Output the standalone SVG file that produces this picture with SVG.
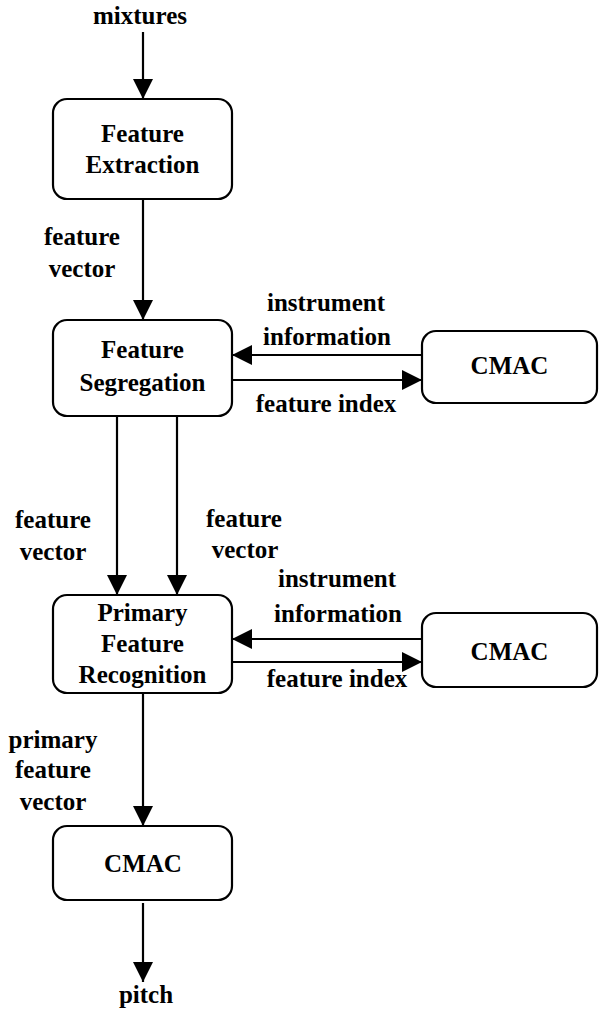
<svg xmlns="http://www.w3.org/2000/svg" width="600" height="1012" viewBox="0 0 600 1012">
  <style>
    .box { fill: #ffffff; stroke: #000000; stroke-width: 2.2; }
    .wire { fill: none; stroke: #000000; stroke-width: 2.2; }
    text { font-family: "Liberation Serif", "Times New Roman", serif; font-weight: bold; font-size: 25px; fill: #000000; text-anchor: middle; }
  </style>
  <defs>
    <marker id="head" markerUnits="userSpaceOnUse" markerWidth="20" markerHeight="20" refX="20" refY="10" orient="auto">
      <path d="M0,0 L20,10 L0,20 Z" fill="#000000"/>
    </marker>
  </defs>

  <rect width="600" height="1012" fill="#ffffff"/>

  <!-- connectors -->
  <g id="connectors">
    <line class="wire" x1="143" y1="32" x2="143" y2="99" marker-end="url(#head)"/>
    <line class="wire" x1="143" y1="199" x2="143" y2="320" marker-end="url(#head)"/>
    <line class="wire" x1="422" y1="355" x2="232" y2="355" marker-end="url(#head)"/>
    <line class="wire" x1="232" y1="380" x2="422" y2="380" marker-end="url(#head)"/>
    <line class="wire" x1="117" y1="416" x2="117" y2="595" marker-end="url(#head)"/>
    <line class="wire" x1="177" y1="416" x2="177" y2="595" marker-end="url(#head)"/>
    <line class="wire" x1="422" y1="639" x2="232" y2="639" marker-end="url(#head)"/>
    <line class="wire" x1="232" y1="662" x2="422" y2="662" marker-end="url(#head)"/>
    <line class="wire" x1="143" y1="693" x2="143" y2="826" marker-end="url(#head)"/>
    <line class="wire" x1="143" y1="903" x2="143" y2="982" marker-end="url(#head)"/>

    <text x="140" y="24">mixtures</text>
    <text x="82" y="245">feature</text>
    <text x="82" y="277">vector</text>
    <text x="326" y="311">instrument</text>
    <text x="327" y="345">information</text>
    <text x="326" y="412">feature index</text>
    <text x="53" y="528">feature</text>
    <text x="53" y="560">vector</text>
    <text x="244" y="527">feature</text>
    <text x="245" y="558">vector</text>
    <text x="337" y="587">instrument</text>
    <text x="338" y="622">information</text>
    <text x="337" y="687">feature index</text>
    <text x="53" y="748">primary</text>
    <text x="53" y="778">feature</text>
    <text x="53" y="810">vector</text>
    <text x="146" y="1003">pitch</text>
  </g>

  <!-- nodes -->
  <g id="feature-extraction">
    <rect class="box" x="53" y="99" width="179" height="100" rx="14" ry="14"/>
    <text x="142.5" y="142">Feature</text>
    <text x="142.5" y="173">Extraction</text>
  </g>

  <g id="feature-segregation">
    <rect class="box" x="53" y="320" width="179" height="96" rx="14" ry="14"/>
    <text x="142.5" y="358">Feature</text>
    <text x="142.5" y="391">Segregation</text>
  </g>

  <g id="cmac-segregation">
    <rect class="box" x="422" y="331" width="175" height="72" rx="14" ry="14"/>
    <text x="509.5" y="374">CMAC</text>
  </g>

  <g id="primary-feature-recognition">
    <rect class="box" x="53" y="595" width="179" height="98" rx="14" ry="14"/>
    <text x="142.5" y="621">Primary</text>
    <text x="142.5" y="652">Feature</text>
    <text x="142.5" y="683">Recognition</text>
  </g>

  <g id="cmac-recognition">
    <rect class="box" x="422" y="613" width="175" height="74" rx="14" ry="14"/>
    <text x="509.5" y="660">CMAC</text>
  </g>

  <g id="cmac-pitch">
    <rect class="box" x="53" y="826" width="179" height="74" rx="14" ry="14"/>
    <text x="143" y="872">CMAC</text>
  </g>
</svg>
